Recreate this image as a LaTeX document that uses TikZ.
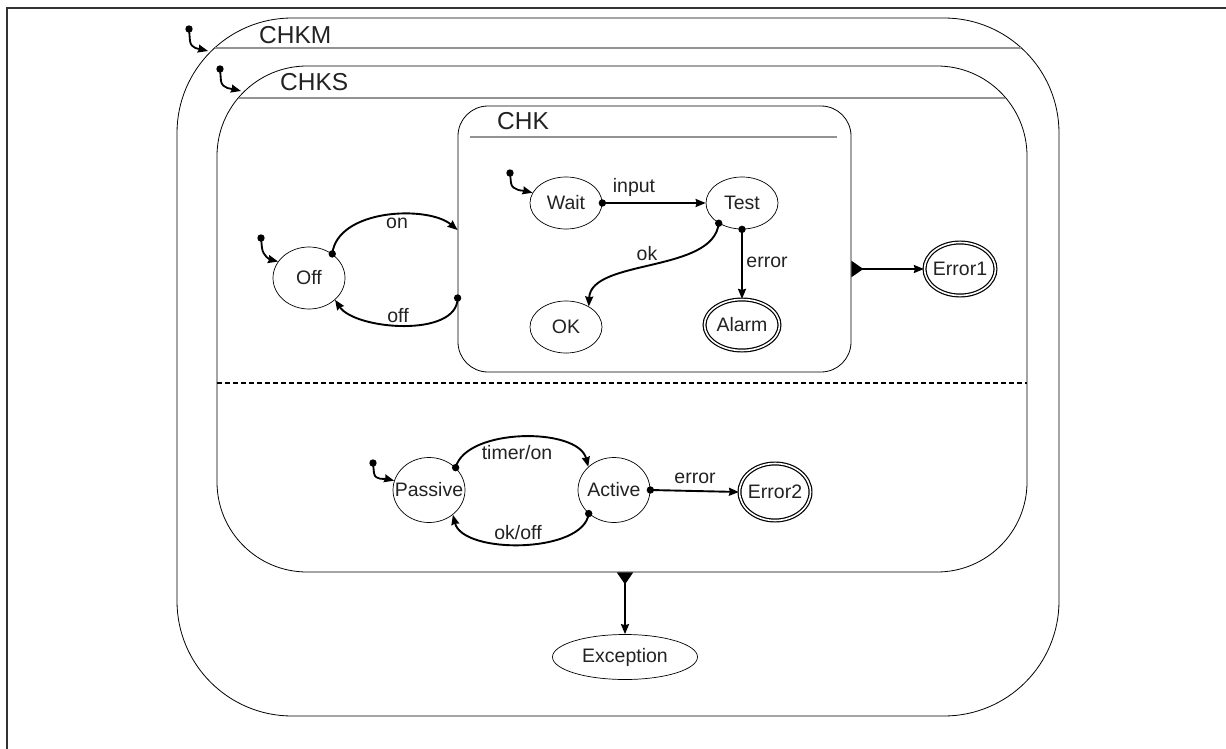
\documentclass[tikz,border=0pt]{standalone}
\usepackage{fontspec}
\setmainfont{Liberation Sans}
\usetikzlibrary{arrows.meta,shapes.geometric,calc}
\definecolor{txt}{HTML}{222222}
\newcommand\stt[1]{\makebox[0pt]{#1}}
\begin{document}
\begin{tikzpicture}[x=1pt,y=-1pt,
  cont/.style={draw=black, line width=0.8pt, rectangle, inner sep=0pt},
  ttl/.style={font=\fontsize{24.5}{28}\selectfont, anchor=base west, inner sep=0pt, text=txt},
  tline/.style={draw=gray!85, line width=1.4pt},
  st/.style={ellipse, draw=black, line width=0.7pt, inner sep=0pt, text=txt, font=\fontsize{19.5}{23}\selectfont},
  fin/.style={st, double=white, double distance=1.6pt, line width=1.2pt},
  tr/.style={line width=1.9pt, -{Stealth[length=10pt,width=8pt,inset=1pt]}},
  lbl/.style={font=\fontsize{19.5}{23}\selectfont, inner sep=0pt, text=txt},
  init/.style={line width=1.8pt, -{Stealth[length=10pt,width=8pt,inset=1pt]}},
  dotr/.style={fill=black}
]
\useasboundingbox (0,0) rectangle (1226,749);
% frame
\draw[line width=1.3pt, draw=black!80] (7,749) -- (7,8) -- (1226,8);

% containers
\node[cont, rounded corners=115pt, minimum width=882pt, minimum height=698pt] (CHKM) at (618,367) {};
\node[cont, rounded corners=90pt, minimum width=810pt, minimum height=506pt] (CHKS) at (622,319) {};
\node[cont, rounded corners=30pt, minimum width=393pt, minimum height=266pt] (CHK) at (654.5,239) {};

\draw[tline] (215,48) -- (1021,48);
\draw[tline] (239,98) -- (1005,98);
\draw[tline] (470,137) -- (837,137);
\draw[line width=1.2pt, dash pattern=on 5pt off 3pt] (CHKS.west |- 0,383) -- (CHKS.east |- 0,383);

\node[ttl] (tM) at (259,44) {CHKM};
\node[ttl] (tS) at (280,91) {CHKS};
\node[ttl] (tK) at (497,130) {CHK};

% states
\node[st, minimum width=72pt, minimum height=62pt] (Off) at (309,278) {\stt{Off}};
\node[st, minimum width=72pt, minimum height=52pt] (Wait) at (566,203) {\stt{Wait}};
\node[st, minimum width=72pt, minimum height=52pt] (Test) at (742,203) {\stt{Test}};
\node[st, minimum width=72pt, minimum height=52pt] (OK) at (566,327) {\stt{OK}};
\node[fin, minimum width=75pt, minimum height=51pt] (Alarm) at (742,325) {\stt{Alarm}};
\node[fin, minimum width=71pt, minimum height=53pt] (Error1) at (960,269) {\stt{Error1}};
\node[st, minimum width=72pt, minimum height=65pt] (Passive) at (429,490) {\stt{Passive}};
\node[st, minimum width=72pt, minimum height=65pt] (Active) at (614,490) {\stt{Active}};
\node[fin, minimum width=71pt, minimum height=57pt] (Error2) at (775,492) {\stt{Error2}};
\node[st, minimum width=145pt, minimum height=45pt] (Exception) at (625,657) {\stt{Exception}};

% initial markers
\coordinate (iM) at (189,29); \coordinate (iMt) at (208,51);
\fill[dotr] (iM) circle (3.7pt);
\draw[init] (iM) -- ++(1,12) .. controls +(1,8) and +(-8,-2) .. (iMt);
\coordinate (iS) at (220,69); \coordinate (iSt) at (241,91);
\fill[dotr] (iS) circle (3.7pt);
\draw[init] (iS) -- ++(1,12) .. controls +(1,8) and +(-8,-2) .. (iSt);
\coordinate (iO) at (261,238);
\fill[dotr] (iO) circle (3.7pt);
\draw[init] (iO) -- ++(1,10) .. controls +(1,8) and +(-8,-2) .. (Off.152);
\coordinate (iW) at (510,173);
\fill[dotr] (iW) circle (3.7pt);
\draw[init] (iW) -- ++(1,10) .. controls +(1,8) and +(-8,-2) .. (Wait.163);
\coordinate (iP) at (373,463);
\fill[dotr] (iP) circle (3.7pt);
\draw[init] (iP) -- ++(1,10) .. controls +(1,8) and +(-8,-2) .. (Passive.165);

% transitions
\fill[dotr] (Off.46) circle (3.7pt);
\draw[tr] (Off.46) .. controls +(5,-45) and +(-30,-25) .. (CHK.west |- 0,230);
\node[lbl] (lon) at (397,223) {on};
\fill[dotr] (CHK.west |- 0,298) circle (3.7pt);
\draw[tr] (CHK.west |- 0,298) .. controls +(0,40) and +(20,30) .. (Off.-40);
\node[lbl] (loff) at (398,316) {off};

\fill[dotr] (Wait.east) circle (3.7pt);
\draw[tr] (Wait.east) -- (Test.west);
\node[lbl] (lin) at (634,187) {input};

\fill[dotr] (Test.221) circle (3.7pt);
\draw[tr] (Test.221) .. controls +(-5,50) and +(2,-48) .. (OK.42);
\node[lbl] (lok) at (647,254) {ok};

\fill[dotr] (Test.south) circle (3.7pt);
\draw[tr] (Test.south) -- (Alarm.north);
\node[lbl] (ler) at (767,262) {error};

\draw[line width=1.9pt, {Triangle[reversed,length=12pt,width=16pt]}-{Stealth[length=10pt,width=8pt,inset=1pt]}] (CHK.east |- Error1) -- (Error1.west);

\fill[dotr] (Passive.40) circle (3.7pt);
\draw[tr] (Passive.40) .. controls +(10,-40) and +(-10,-40) .. (Active.138);
\node[lbl] (ltim) at (517,453) {timer/on};
\fill[dotr] (Active.223) circle (3.7pt);
\draw[tr] (Active.223) .. controls +(-5,40) and +(10,40) .. (Passive.-46);
\node[lbl] (lokoff) at (518,533) {ok/off};
\fill[dotr] (Active.east) circle (3.7pt);
\draw[tr] (Active.east) -- (Error2.west);
\node[lbl] (ler2) at (695,478) {error};

\draw[line width=1.9pt, {Triangle[reversed,length=12pt,width=16pt]}-{Stealth[length=10pt,width=8pt,inset=1pt]}] (Exception |- CHKS.south) -- (Exception.north);
\end{tikzpicture}
\end{document}
